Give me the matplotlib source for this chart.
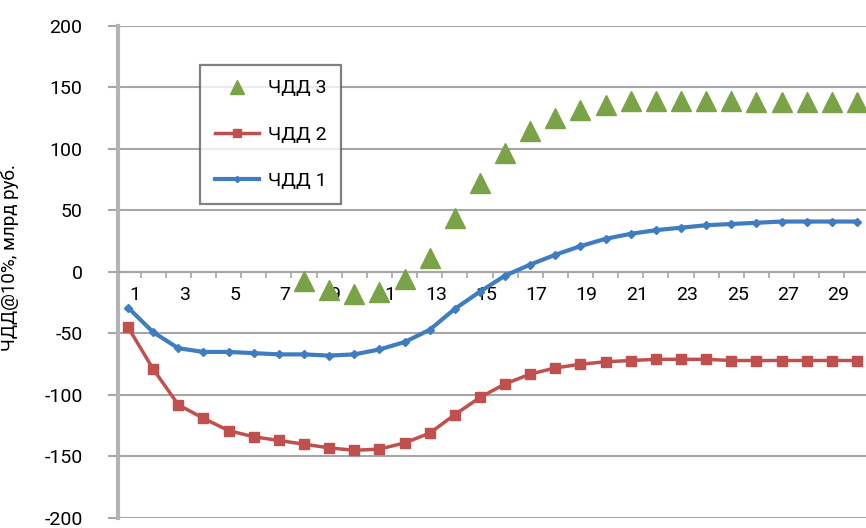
import matplotlib
matplotlib.use("Agg")
import matplotlib.pyplot as plt
import numpy as np

plt.rcParams['font.family'] = ['Roboto', 'DejaVu Sans']
plt.rcParams['axes.unicode_minus'] = False

# годы расчётного периода
years = list(range(1, 31))

# ЧДД 1, млрд руб.
npv1 = [-29, -49, -62, -65, -65, -66, -67, -67, -68, -67,
        -63, -57, -47, -30, -16, -3, 6, 14, 21, 27,
        31, 34, 36, 38, 39, 40, 41, 41, 41, 41]

# ЧДД 2, млрд руб.
npv2 = [-45, -79, -108, -119, -129, -134, -137, -140, -143, -145,
        -144, -139, -131, -116, -102, -91, -83, -78, -75, -73,
        -72, -71, -71, -71, -72, -72, -72, -72, -72, -72]

# ЧДД 3, млрд руб. (первые годы не показаны)
npv3 = [None, None, None, None, None, None, None, -7, -15, -18,
        -16, -6, 11, 44, 72, 97, 115, 125, 132, 136,
        139, 139, 139, 139, 139, 138, 138, 138, 138, 138]

labels = ['ЧДД 3', 'ЧДД 2', 'ЧДД 1']
ylabel = 'ЧДД@10%, млрд руб.'

blue = '#3f7cc0'
red = '#c0504d'
green = '#7aa348'
grid_c = '#a6a6a6'

fig = plt.figure(figsize=(8.66, 5.28), dpi=100, facecolor='white')
ax = fig.add_axes([0.1363, 0.019, 0.8637, 0.9318])

x = np.array(years)
y3 = np.array([np.nan if v is None else v for v in npv3], dtype=float)

ax.plot(x, y3, linestyle='none', marker='^', markersize=14.5,
        color=green, label=labels[0], zorder=4)
ax.plot(x, npv2, color=red, lw=2.5, marker='s', markersize=7.5,
        label=labels[1], zorder=3)
ax.plot(x, npv1, color=blue, lw=3, marker='D', markersize=4.5,
        label=labels[2], zorder=3)

ax.set_ylim(-200, 200)
ax.set_xlim(0.6, 30.36)
ax.set_yticks(np.arange(-200, 201, 50))
ax.yaxis.grid(True, color=grid_c, lw=1.5)
ax.set_axisbelow(True)

# ось X проходит через ноль, засечки между категориями
for side in ['top', 'right']:
    ax.spines[side].set_visible(False)
ax.spines['left'].set_color('#b4b4b4')
ax.spines['left'].set_linewidth(3)
ax.spines['bottom'].set_position(('data', 0))
ax.spines['bottom'].set_color(grid_c)
ax.spines['bottom'].set_linewidth(1.5)

ax.set_xticks(np.arange(1.5, 30.5, 1))
ax.set_xticklabels([])
ax.tick_params(axis='x', which='major', direction='out', length=4.5,
               width=1.2, color=grid_c)
ax.set_xticks([i + 0.25 for i in years if i % 2 == 1], minor=True)
ax.set_xticklabels([str(i) for i in years if i % 2 == 1], minor=True)
ax.tick_params(axis='x', which='minor', length=0, pad=10, labelsize=14)

ax.tick_params(axis='y', direction='out', length=7.5, width=1.5,
               color=grid_c, pad=18, labelsize=14)

ax.set_ylabel(ylabel, fontsize=13.5)
ax.yaxis.set_label_coords(-0.133, 0.53)

leg = ax.legend(loc='upper left', bbox_to_anchor=(0.1096, 0.921),
                borderaxespad=0, fontsize=14, frameon=True, fancybox=False,
                edgecolor='#606060', handlelength=2.3, labelspacing=1.45,
                borderpad=0.75, handletextpad=0.45, markerscale=0.7)
leg.get_frame().set_linewidth(1.6)

fig.savefig('out.png', dpi=100)
